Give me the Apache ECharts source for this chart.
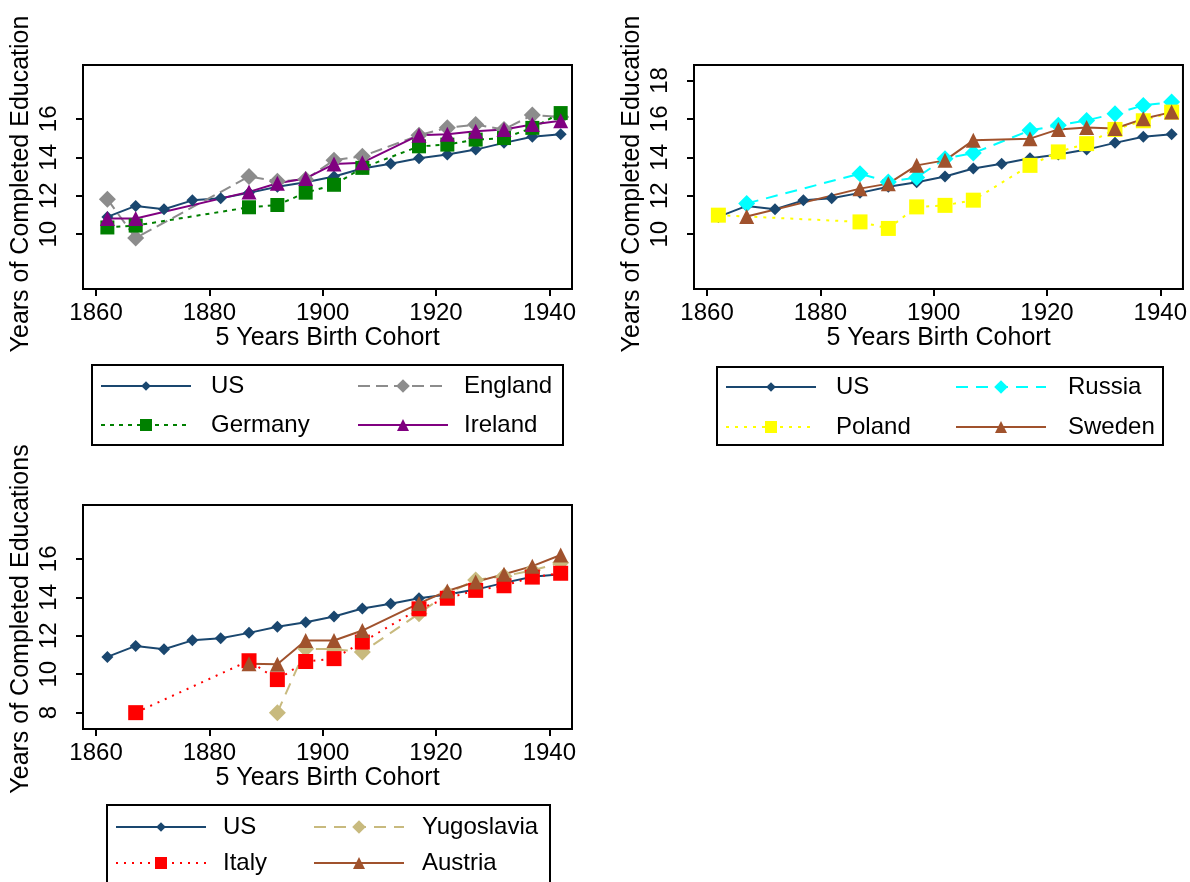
<!DOCTYPE html>
<html><head><meta charset="utf-8">
<script src="https://cdn.jsdelivr.net/npm/echarts@6/dist/echarts.min.js"></script>
<style>html,body{margin:0;padding:0;background:#fff}#c{width:1190px;height:882px}</style>
</head><body><div id="c"></div>
<script>
// ---- data ----
const years = [1862,1867,1872,1877,1882,1887,1892,1897,1902,1907,1912,1917,1922,1927,1932,1937,1942];
const US       = [10.9,11.47,11.3,11.76,11.87,12.15,12.47,12.7,13.0,13.42,13.66,13.95,14.15,14.4,14.75,15.07,15.2];
const England  = [11.82,9.8,null,null,null,13.0,12.75,12.85,13.85,14.05,null,15.15,15.53,15.7,15.45,16.2,16.1];
const Germany  = [10.35,10.45,null,null,null,11.4,11.52,12.16,12.57,13.45,null,14.57,14.66,14.92,15.0,15.53,16.3];
const Ireland  = [10.82,10.82,null,null,null,12.2,12.65,12.9,13.65,13.72,null,15.15,15.2,15.35,15.45,15.7,15.9];
const Russia   = [null,11.6,null,null,null,13.15,12.72,12.95,13.93,14.22,null,15.4,15.66,15.92,16.27,16.7,16.87];
const Poland   = [10.99,null,null,null,null,10.64,10.3,11.42,11.5,11.77,null,13.58,14.28,14.71,15.45,15.9,16.35];
const Sweden   = [null,10.92,null,null,null,12.37,12.63,13.58,13.84,14.88,null,14.97,15.45,15.55,15.5,16.0,16.35];
const Yugoslavia = [null,null,null,null,null,null,8.0,11.32,11.3,11.15,null,13.15,14.2,14.9,15.1,15.4,15.8];
const Italy    = [null,8.0,null,null,null,10.7,9.72,10.66,10.81,11.67,null,13.4,13.95,14.36,14.6,15.05,15.25];
const Austria  = [null,null,null,null,null,10.55,10.52,11.75,11.75,12.27,null,13.68,14.33,14.8,15.2,15.62,16.2];
const xTicks  = [1860,1880,1900,1920,1940];
const yTicks1 = [10,12,14,16];
const yTicks2 = [10,12,14,16,18];
const yTicks3 = [8,10,12,14,16];
const yTitle1 = 'Years of Completed Education';
const yTitle3 = 'Years of Completed Educations';
const xTitle  = '5 Years Birth Cohort';

// ---- styles ----
const FONT = "'Liberation Sans', Arial, sans-serif";
const FS = 24, FST = 25;
const sty = {
  US:        {color:'#1a476f', symbol:'diamond',  size:12, dash:'solid', lh:12},
  England:   {color:'#8c8c8c', symbol:'diamond',  size:17, dash:[12,6], lh:17},
  Germany:   {color:'#008000', symbol:'rect',     size:14, dash:[4,5],  lh:15},
  Ireland:   {color:'#800080', symbol:'triangle', size:15, dash:'solid', lh:15},
  Russia:    {color:'#00ffff', symbol:'diamond',  size:17, dash:[12,8], lh:17},
  Poland:    {color:'#ffff00', symbol:'rect',     size:15, dash:[3,6],  lh:15},
  Sweden:    {color:'#a0522d', symbol:'triangle', size:15, dash:'solid', lh:15},
  Yugoslavia:{color:'#c8ba7e', symbol:'diamond',  size:17, dash:[12,8], lh:17},
  Italy:     {color:'#ff0000', symbol:'rect',     size:15, dash:[2,6],  lh:15},
  Austria:   {color:'#a0522d', symbol:'triangle', size:15, dash:'solid', lh:15}
};

function mk(name, arr, gi) {
  const s = sty[name];
  return {
    name, type:'line', xAxisIndex:gi, yAxisIndex:gi,
    data: years.map((y,i)=>[y, arr[i]==null ? '-' : arr[i]]),
    connectNulls:true, symbol:s.symbol, symbolSize:s.size, showSymbol:true,
    itemStyle:{color:s.color},
    lineStyle:{color:s.color, width:2, type:s.dash},
    emphasis:{disabled:true}, silent:true, animation:false
  };
}

const grids = [
  {left:83, top:65, width:489, height:224},
  {left:694, top:65, width:489, height:224},
  {left:83, top:505, width:489, height:224}
];
const yTickSets = [yTicks1, yTicks2, yTicks3];
const yTitles = [yTitle1, yTitle1, yTitle3];
const yTitlePad = [[0,14,0,0],[0,14,0,0],[0,4,0,0]];

const xAxes = grids.map((g,i)=>({
  type:'value', gridIndex:i, min:1857.7, max:1944,
  name:xTitle, nameLocation:'middle', nameGap:35,
  nameTextStyle:{fontFamily:FONT, fontSize:FST, color:'#000'},
  axisLine:{show:true, lineStyle:{color:'#000', width:2}},
  axisTick:{show:true, customValues:xTicks, length:7, lineStyle:{color:'#000', width:2}},
  axisLabel:{customValues:xTicks, margin:12, fontFamily:FONT, fontSize:FS, color:'#000', formatter:v=>String(v)},
  splitLine:{show:false}
}));
const yAxes = grids.map((g,i)=>({
  type:'value', gridIndex:i, min:7.15, max:18.8,
  name:yTitles[i], nameLocation:'middle', nameGap:49,
  nameTextStyle:{fontFamily:FONT, fontSize:FST, color:'#000', padding:yTitlePad[i]},
  axisLine:{show:true, lineStyle:{color:'#000', width:2}},
  axisTick:{show:true, customValues:yTickSets[i], length:7, lineStyle:{color:'#000', width:2}},
  axisLabel:{customValues:yTickSets[i], rotate:90, margin:22, fontFamily:FONT, fontSize:FS, color:'#000', formatter:v=>String(v)},
  splitLine:{show:false}
}));

const series = [
  mk('US', US, 0), mk('England', England, 0), mk('Germany', Germany, 0), mk('Ireland', Ireland, 0),
  mk('US', US, 1), mk('Russia', Russia, 1), mk('Poland', Poland, 1), mk('Sweden', Sweden, 1),
  mk('US', US, 2), mk('Yugoslavia', Yugoslavia, 2), mk('Italy', Italy, 2), mk('Austria', Austria, 2)
];

// legend item placement: [name, iconLeft, rowCenterY, textPad]
const legendPos = [
  ['US',100,386,15], ['England',357,386,11], ['Germany',100,425,15], ['Ireland',357,425,11],
  ['US',725,387,15], ['Russia',955,387,17], ['Poland',725,427,15], ['Sweden',955,427,17],
  ['US',115,827,12], ['Yugoslavia',313,827,13], ['Italy',115,863,12], ['Austria',313,863,13]
];
const LH = 26;
const legends = legendPos.map(([n,l,cy,pad])=>({
  data:[n], left:l, top:cy - LH/2, padding:0, itemWidth:90, itemHeight:sty[n].lh,
  selectedMode:false, orient:'horizontal',
  textStyle:{fontFamily:FONT, fontSize:FS, color:'#000', lineHeight:LH, padding:[0,0,0,pad]}
}));

const boxes = [[92,365,471,80],[717,367,446,78],[107,805,443,100]];
const graphic = boxes.map(([x,y,w,h])=>({
  type:'rect', shape:{x,y,width:w,height:h}, style:{fill:'none', stroke:'#000', lineWidth:2}, silent:true
}));

const chart = echarts.init(document.getElementById('c'), null, {renderer:'canvas'});
chart.setOption({
  animation:false,
  backgroundColor:'#fff',
  grid: grids.map(g=>Object.assign({show:true, borderColor:'#000', borderWidth:2, backgroundColor:'#fff'}, g)),
  xAxis:xAxes, yAxis:yAxes, series, legend:legends, graphic
});
</script></body></html>
